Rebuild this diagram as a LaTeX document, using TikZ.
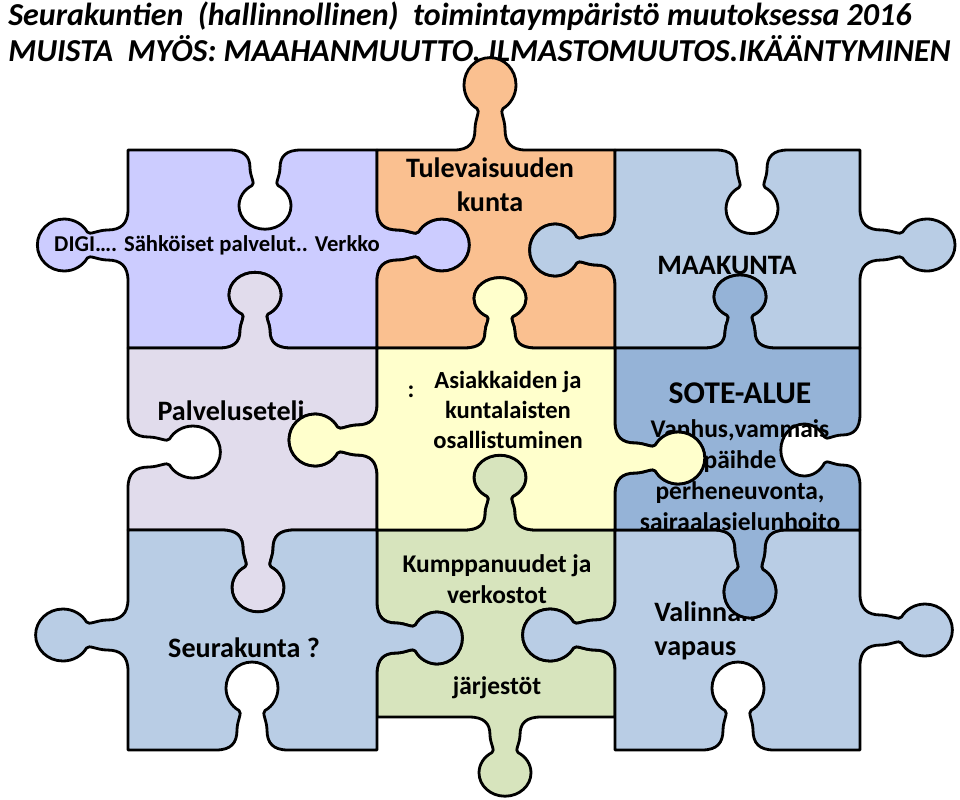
\documentclass[tikz,border=0pt]{standalone}
\usepackage{fontspec}
\setmainfont{Carlito}
\usepackage{xcolor}

\definecolor{digiC}{RGB}{204,204,255}
\definecolor{kuntaC}{RGB}{250,192,144}
\definecolor{maakC}{RGB}{185,205,229}
\definecolor{seteliC}{RGB}{225,220,236}
\definecolor{osallC}{RGB}{255,255,204}
\definecolor{soteC}{RGB}{149,179,215}
\definecolor{kumppC}{RGB}{215,228,189}

% one jigsaw edge: centre (#1,#2), along (#3,#4), outward (#5,#6)
\newcommand\jig[6]{%
 -- ({#1-36*(#3)},{#2-36*(#4)})
 .. controls ({#1-21*(#3)},{#2-21*(#4)}) and ({#1-15*(#3)+7*(#5)},{#2-15*(#4)+7*(#6)})
 .. ({#1-15*(#3)+20*(#5)},{#2-15*(#4)+20*(#6)})
 .. controls ({#1-15*(#3)+29*(#5)},{#2-15*(#4)+29*(#6)}) and ({#1-9.5*(#3)+37.5*(#5)},{#2-9.5*(#4)+37.5*(#6)})
 .. ({#1-13*(#3)+39.5*(#5)},{#2-13*(#4)+39.5*(#6)})
 .. controls ({#1-21*(#3)+44*(#5)},{#2-21*(#4)+44*(#6)}) and ({#1-26*(#3)+52.7*(#5)},{#2-26*(#4)+52.7*(#6)})
 .. ({#1-26*(#3)+62*(#5)},{#2-26*(#4)+62*(#6)})
 .. controls ({#1-26*(#3)+76.4*(#5)},{#2-26*(#4)+76.4*(#6)}) and ({#1-14.4*(#3)+88*(#5)},{#2-14.4*(#4)+88*(#6)})
 .. ({#1+88*(#5)},{#2+88*(#6)})
 .. controls ({#1+14.4*(#3)+88*(#5)},{#2+14.4*(#4)+88*(#6)}) and ({#1+26*(#3)+76.4*(#5)},{#2+26*(#4)+76.4*(#6)})
 .. ({#1+26*(#3)+62*(#5)},{#2+26*(#4)+62*(#6)})
 .. controls ({#1+26*(#3)+52.7*(#5)},{#2+26*(#4)+52.7*(#6)}) and ({#1+21*(#3)+44*(#5)},{#2+21*(#4)+44*(#6)})
 .. ({#1+13*(#3)+39.5*(#5)},{#2+13*(#4)+39.5*(#6)})
 .. controls ({#1+9.5*(#3)+37.5*(#5)},{#2+9.5*(#4)+37.5*(#6)}) and ({#1+15*(#3)+29*(#5)},{#2+15*(#4)+29*(#6)})
 .. ({#1+15*(#3)+20*(#5)},{#2+15*(#4)+20*(#6)})
 .. controls ({#1+15*(#3)+7*(#5)},{#2+15*(#4)+7*(#6)}) and ({#1+21*(#3)},{#2+21*(#4)})
 .. ({#1+36*(#3)},{#2+36*(#4)})}
% edges of a piece, clockwise; #3 > 0 tab, #3 < 0 hole
\newcommand\etop[3]{\jig{#1}{#2}{1}{0}{0}{0-(#3)}}
\newcommand\eright[3]{\jig{#1}{#2}{0}{1}{#3}{0}}
\newcommand\ebot[3]{\jig{#1}{#2}{-1}{0}{0}{#3}}
\newcommand\eleft[3]{\jig{#1}{#2}{0}{-1}{0-(#3)}{0}}

\begin{document}
\begin{tikzpicture}[x=0.02cm,y=-0.02cm,line join=round,
  piece/.style={draw=black,line width=1.6pt},
  title/.style={inner sep=0pt,anchor=base west,font=\bfseries\itshape\fontsize{18.2}{21}\selectfont},
  lbl/.style={inner sep=0pt,align=center,font=\bfseries\fontsize{16}{19.5}\selectfont},
  small/.style={font=\bfseries\fontsize{14.5}{17.6}\selectfont}]
  \useasboundingbox (0,0) rectangle (960,799);
  \node[title] (otsikko) at (8,25) {Seurakuntien\ \ (hallinnollinen)\ \ toimintaympäristö muutoksessa 2016};
  \node[title] (muista) at (8,61) {MUISTA\ \ MYÖS: MAAHANMUUTTO, ILMASTOMUUTOS.IKÄÄNTYMINEN};
  % top row
  \filldraw[piece,fill=digiC] (128,150) \etop{265}{150}{-0.9} -- (377,150) \eright{377}{245}{1.05}
    -- (377,348) \ebot{255}{348}{-0.86} -- (128,348) \eleft{128}{245}{1.03} -- cycle;
  \node[lbl,font=\bfseries\fontsize{12.9}{15}\selectfont] (digi) at (217,245) {DIGI…. Sähköiset palvelut.. Verkko};
  \filldraw[piece,fill=kuntaC] (377,150) \etop{490}{150}{1.05} -- (615,150) \eright{615}{250}{-0.97}
    -- (615,348) \ebot{500}{348}{-0.8} -- (377,348) \eleft{377}{245}{-1.05} -- cycle;
  \node[lbl] (kunta) at (490,185) {Tulevaisuuden\\kunta};
  \filldraw[piece,fill=maakC] (615,150) \etop{752}{150}{-0.95} -- (860,150) \eright{860}{245}{1.08}
    -- (860,348) \ebot{740}{348}{-0.83} -- (615,348) \eleft{615}{250}{0.97} -- cycle;
  \node[lbl] (maakunta) at (727,265) {MAAKUNTA};
  % middle and bottom rows
  \filldraw[piece,fill=seteliC] (128,348) \etop{255}{348}{0.86} -- (377,348) \eright{377}{440}{-1}
    -- (377,530) \ebot{258}{530}{0.93} -- (128,530) \eleft{128}{452}{-1.05} -- cycle;
  \node[lbl] (seteli) at (231,411) {Palveluseteli};
  \filldraw[piece,fill=kumppC] (377,530) \etop{500}{530}{0.85} -- (615,530) \eright{615}{635}{-1.05}
    -- (615,717) \ebot{505}{717}{0.9} -- (377,717) \eleft{377}{638}{-0.97} -- cycle;
  \node[lbl,small] (kumpp) at (497,579) {Kumppanuudet ja\\verkostot};
  \node[lbl,small] (jarj) at (497,688) {järjestöt};
  \filldraw[piece,fill=maakC] (128,530) \etop{258}{530}{-0.93} -- (377,530) \eright{377}{638}{0.97}
    -- (377,750) \ebot{252}{750}{-1} -- (128,750) \eleft{128}{635}{1.05} -- cycle;
  \node[lbl] (seura) at (244,648) {Seurakunta ?};
  \filldraw[piece,fill=maakC] (615,530) \etop{750}{530}{-1} -- (860,530) \eright{860}{630}{1.05}
    -- (860,750) \ebot{738}{750}{-1} -- (615,750) \eleft{615}{635}{1.05} -- cycle;
  \node[lbl,align=left,anchor=west] (valinta) at (654,631) {Valinnan\\vapaus};
  \filldraw[piece,fill=soteC] (615,348) \etop{740}{348}{0.83} -- (860,348) \eright{860}{450}{-0.9}
    -- (860,530) \ebot{750}{530}{1} -- (615,530) \eleft{615}{458}{-1.02} -- cycle;
  \node[lbl,font=\bfseries\fontsize{18}{21}\selectfont] (sote) at (740,393) {SOTE-ALUE};
  \node[lbl,small] (palvelut) at (740,475) {Vanhus,vammais\\päihde\\perheneuvonta,\\sairaalasielunhoito};
  \filldraw[piece,fill=osallC] (377,348) \etop{500}{348}{0.8} -- (615,348) \eright{615}{458}{1.02}
    -- (615,530) \ebot{500}{530}{-0.85} -- (377,530) \eleft{377}{440}{1} -- cycle;
  \node[lbl,font=\bfseries\fontsize{14}{17}\selectfont] (kaksoisp) at (411,392) {:};
  \node[lbl,font=\bfseries\fontsize{14}{17}\selectfont] (osall) at (508,410) {Asiakkaiden ja\\kuntalaisten\\osallistuminen};
\end{tikzpicture}
\end{document}
